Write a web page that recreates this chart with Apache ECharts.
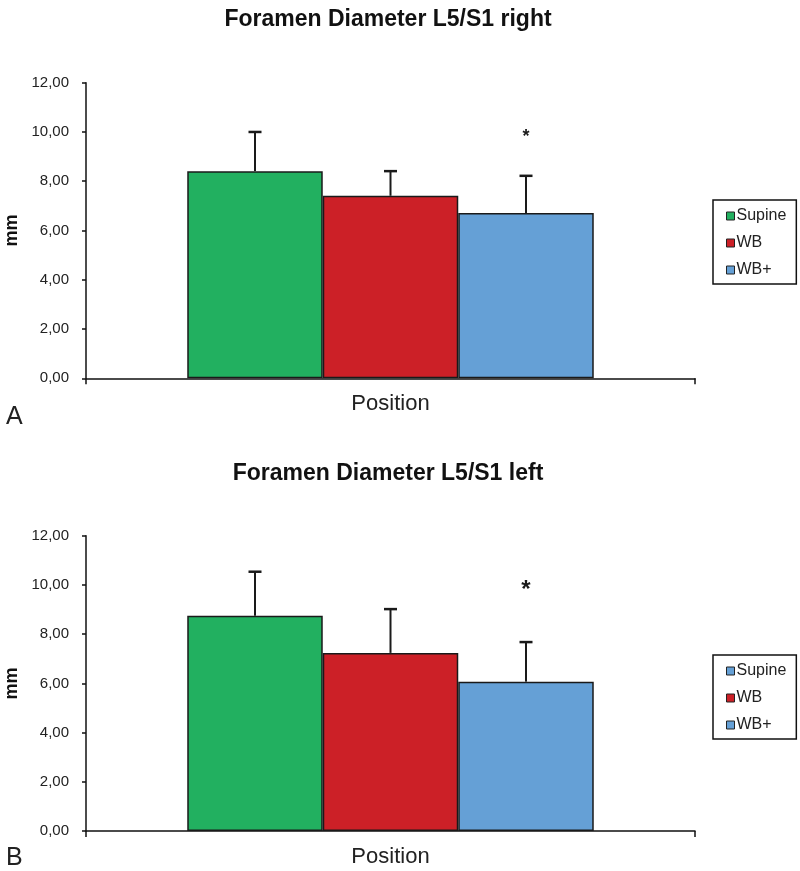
<!DOCTYPE html>
<html><head><meta charset="utf-8">
<script src="https://cdn.jsdelivr.net/npm/echarts@6/dist/echarts.min.js"></script>
<style>html,body{margin:0;padding:0;background:#fff}#c{width:800px;height:871px}</style>
</head><body><div id="c"></div>
<script>
const seriesNames = ['Supine', 'WB', 'WB+'];
const seriesColors = ['#22b060', '#cc2027', '#65a0d6'];
const legendBColors = ['#65a0d6', '#cc2027', '#65a0d6'];
const titles = ['Foramen Diameter L5/S1 right', 'Foramen Diameter L5/S1 left'];
const panelLetters = ['A', 'B'];
const yTicks = [0, 2, 4, 6, 8, 10, 12];
const rightMeans = [8.41, 7.41, 6.71];
const rightSD = [1.59, 1.00, 1.51];
const leftMeans = [8.75, 7.24, 6.07];
const leftSD = [1.79, 1.78, 1.61];
const starRight = [2, 9.95];
const starLeft = [2, 9.96];

const FONT = '"Liberation Sans", Arial, sans-serif';
const BAR_FRAC = 0.2225;
const grids = [
  {left: 86, right: 105, top: 82.7, height: 295.6, outerBoundsMode: 'none', containLabel: false},
  {left: 86, right: 105, top: 535.8, height: 295.2, outerBoundsMode: 'none', containLabel: false}
];
const means = [rightMeans, leftMeans];
const sds = [rightSD, leftSD];
const stars = [starRight, starLeft];
const starSizes = [18, 24];

const option = {
  animation: false,
  backgroundColor: '#fff',
  title: titles.map((t, i) => ({
    text: t, left: 383, top: i === 0 ? 3 : 457, textAlign: 'center',
    textStyle: {fontFamily: FONT, fontSize: 23, fontWeight: 'bold', color: '#111'}
  })),
  grid: grids,
  legend: [0, 1].map(g => ({
    orient: 'vertical', left: 713, top: g === 0 ? 200 : 655,
    padding: [8, 10, 6, 13],
    borderColor: '#111', borderWidth: 1.5,
    itemWidth: 8, itemHeight: 8, itemGap: 11,
    icon: 'rect',
    textStyle: {fontFamily: FONT, fontSize: 16, color: '#222', padding: [0, 0, 0, -3]},
    data: seriesNames.map((n, k) => ({
      name: n,
      itemStyle: {color: g === 0 ? seriesColors[k] : legendBColors[k], borderColor: '#222', borderWidth: 1}
    })),
    selectedMode: false
  })),
  xAxis: [0, 1].map(g => ({
    type: 'category', gridIndex: g, data: ['Position'],
    boundaryGap: true,
    axisLine: {lineStyle: {color: '#111', width: 1.5}},
    axisTick: {show: true, length: 6, lineStyle: {color: '#111', width: 1.5}},
    axisLabel: {show: false},
    name: 'Position', nameLocation: 'middle', nameGap: 15,
    nameTextStyle: {fontFamily: FONT, fontSize: 22, color: '#222'}
  })),
  yAxis: [0, 1].map(g => ({
    type: 'value', gridIndex: g, min: yTicks[0], max: yTicks[yTicks.length - 1], interval: 2,
    axisLine: {show: true, lineStyle: {color: '#111', width: 1.5}},
    axisTick: {show: true, length: 4, lineStyle: {color: '#111', width: 1.5}},
    splitLine: {show: false},
    axisLabel: {fontFamily: FONT, fontSize: 15, color: '#222', margin: 17,
      formatter: v => v.toFixed(2).replace('.', ',')},
    name: 'mm', nameLocation: 'middle', nameRotate: 90, nameGap: 64,
    nameTextStyle: {fontFamily: FONT, fontSize: 18, fontWeight: 'bold', color: '#111'}
  })),
  series: [],
  graphic: panelLetters.map((l, i) => ({
    type: 'text', left: 6, top: i === 0 ? 405 : 846,
    style: {text: l, fontFamily: FONT, fontSize: 25, fill: '#222'}
  }))
};

[0, 1].forEach(g => {
  seriesNames.forEach((n, k) => {
    option.series.push({
      type: 'bar', name: n, xAxisIndex: g, yAxisIndex: g,
      data: [means[g][k]],
      barWidth: (BAR_FRAC * 100) + '%', barGap: '0%',
      itemStyle: {color: seriesColors[k], borderColor: '#1a1a1a', borderWidth: 1.5}
    });
  });
  option.series.push({
    type: 'custom', xAxisIndex: g, yAxisIndex: g, silent: true,
    data: seriesNames.map((n, k) => [0, means[g][k], sds[g][k], k]),
    renderItem: (params, api) => {
      const band = api.size([1, 0])[0];
      const bw = band * BAR_FRAC;
      const k = api.value(3);
      const base = api.coord([0, api.value(1)]);
      const top = api.coord([0, api.value(1) + api.value(2)]);
      const x = base[0] + (k - 1) * bw;
      return {
        type: 'group',
        children: [
          {type: 'line', shape: {x1: x, y1: base[1], x2: x, y2: top[1]}, style: {stroke: '#1a1a1a', lineWidth: 2}},
          {type: 'line', shape: {x1: x - 6.5, y1: top[1], x2: x + 6.5, y2: top[1]}, style: {stroke: '#1a1a1a', lineWidth: 2.5}}
        ]
      };
    },
    z: 5
  });
  option.series.push({
    type: 'custom', xAxisIndex: g, yAxisIndex: g, silent: true,
    data: [[0, stars[g][1], stars[g][0]]],
    renderItem: (params, api) => {
      const band = api.size([1, 0])[0];
      const bw = band * BAR_FRAC;
      const p = api.coord([0, api.value(1)]);
      const x = p[0] + (api.value(2) - 1) * bw;
      return {type: 'text', x: x, y: p[1] + starSizes[g] * 0.2,
        style: {text: '*', fontFamily: FONT, fontSize: starSizes[g], fontWeight: 'bold', fill: '#1a1a1a', align: 'center', verticalAlign: 'middle'}};
    },
    z: 5
  });
});

const chart = echarts.init(document.getElementById('c'), null, {renderer: 'canvas'});
chart.setOption(option);
</script></body></html>
